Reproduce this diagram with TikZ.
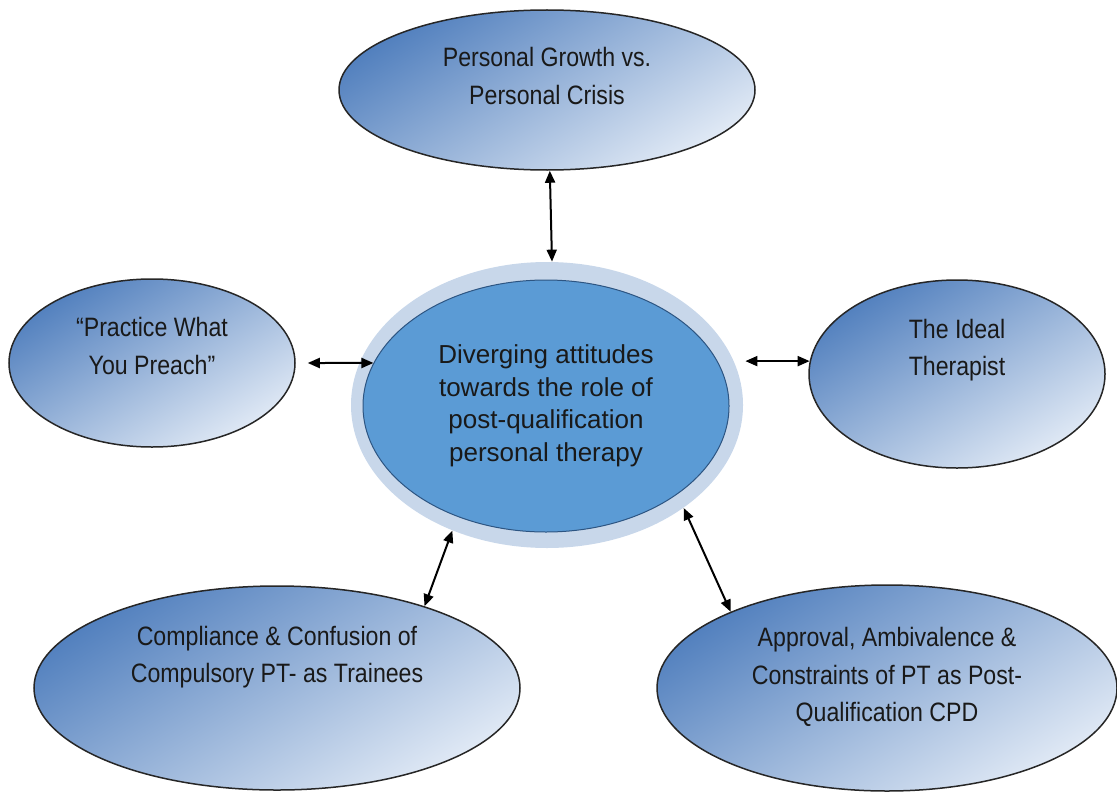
\documentclass[tikz,border=0pt]{standalone}
\usepackage{fontspec}
\setmainfont{Liberation Sans}
\newfontfamily\narrowfont[FakeStretch=0.87]{Liberation Sans}
\usetikzlibrary{shapes.geometric,arrows.meta}
\definecolor{ovdark}{RGB}{82,128,190}
\definecolor{ovlight}{RGB}{224,233,245}
\definecolor{ringblue}{RGB}{200,215,234}
\definecolor{coreblue}{RGB}{91,155,213}
\definecolor{coreline}{RGB}{45,85,130}
\tikzset{
	oval/.style={ellipse, inner sep=0pt, draw=black!85, line width=0.75pt,
		top color=ovdark, bottom color=ovlight, shading angle=32},
	lbl/.style={align=center, font=\narrowfont\fontsize{13.3}{18.8}\selectfont, text=black!90},
	link/.style={line width=1pt, {Triangle[length=6pt,width=5pt]}-{Triangle[length=6pt,width=5pt]}}
}

\begin{document}
\begin{tikzpicture}[x=0.5pt, y=-0.5pt]
		%%%%% START %%%%%
		\useasboundingbox (0, 0) rectangle (1117, 792);
		
		% centre
		\node[ellipse, fill=ringblue, minimum width=196pt, minimum height=143pt, inner sep=0pt] (ring) at (547, 405) {};
		\node[ellipse, fill=coreblue, draw=coreline, line width=0.5pt, minimum width=183pt, minimum height=126pt, inner sep=0pt] (core) at (546, 406) {};
		\node[align=center, font=\fontsize{13}{16.25}\selectfont, text=black!90] (coretext) at (core.center)
			{Diverging attitudes\\towards the role of\\post-qualification\\personal therapy};
		
		% themes
		\node[oval, minimum width=208pt, minimum height=80pt] (top) at (547, 90) {};
		\node[oval, minimum width=143pt, minimum height=84pt] (left) at (152, 363) {};
		\node[oval, minimum width=148pt, minimum height=94pt] (right) at (957, 374) {};
		\node[oval, minimum width=243pt, minimum height=102pt] (bl) at (277, 688) {};
		\node[oval, minimum width=230pt, minimum height=103pt] (br) at (887, 688) {};
		
		\node[lbl] (toptext) at ([yshift=7pt]top.center) {Personal Growth vs.\\Personal Crisis};
		\node[lbl] (lefttext) at ([yshift=8.5pt]left.center) {“Practice What\\You Preach”};
		\node[lbl] (righttext) at ([yshift=12pt]right.center) {The Ideal\\Therapist};
		\node[lbl] (bltext) at ([yshift=15.5pt]bl.center) {Compliance \& Confusion of\\Compulsory PT- as Trainees};
		\node[lbl] (brtext) at ([yshift=5.5pt]br.center) {Approval, Ambivalence \&\\Constraints of PT as Post-\\Qualification CPD};
		
		% links
		\draw[link] (top.-88) -- (ring.88);
		\draw[link] ([xshift=6pt]left.east) -- (core.166);
		\draw[link] ([xshift=1pt]ring.east |- right.175) -- (right.175);
		\draw[link] (ring.233) -- (bl.29);
		\draw[link] (ring.-37) -- (br.154);
		
		%%%%% END %%%%%
	\end{tikzpicture}
\end{document}
